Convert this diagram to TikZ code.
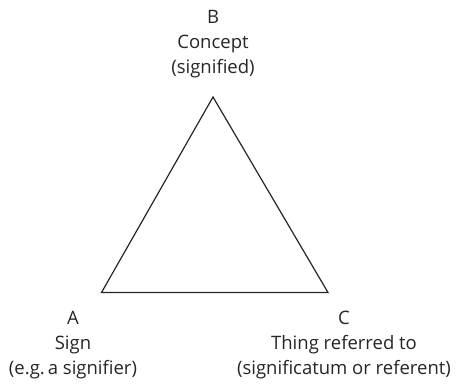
\documentclass[tikz,border=0pt]{standalone}
\usepackage{fontspec}
\setmainfont{Open Sans}
\begin{document}
\begin{tikzpicture}[x=1pt,y=-1pt,
  lbl/.style={anchor=base,inner sep=0pt,text=black!85,font=\fontsize{18.5}{21}\selectfont}]
\useasboundingbox (0,0) rectangle (457,385);
\coordinate (A) at (101.5,292.5);
\coordinate (B) at (213,97);
\coordinate (C) at (328,292.5);
\draw[line width=1.2pt,black!85,line join=miter] (A) -- (B) -- (C) -- cycle;
\node[lbl] (b1) at (213,24) {B};
\node[lbl] (b2) at (213,49) {Concept};
\node[lbl] (b3) at (213,74) {(signified)};
\node[lbl] (a1) at (73,324) {A};
\node[lbl] (a2) at (73,349) {Sign};
\node[lbl] (a3) at (73,374) {(e.g.\,a signifier)};
\node[lbl] (c1) at (344,324) {C};
\node[lbl] (c2) at (344,349) {Thing referred to};
\node[lbl] (c3) at (344,374) {(significatum or referent)};
\end{tikzpicture}
\end{document}
